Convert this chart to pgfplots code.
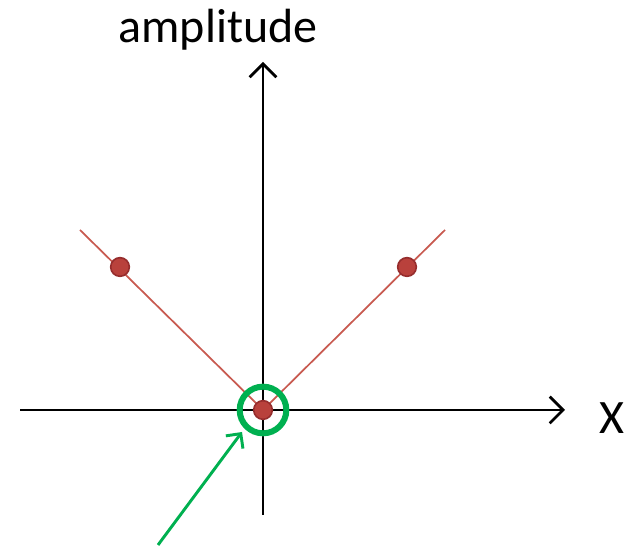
\documentclass[border=0pt]{standalone}
\usepackage{fontspec}
\setmainfont{Carlito}
\usepackage{pgfplots}
\pgfplotsset{compat=1.18}
\usetikzlibrary{arrows.meta}
\definecolor{lred}{RGB}{200,90,80}
\definecolor{dred}{RGB}{150,45,45}
\definecolor{fred}{RGB}{185,65,60}
\definecolor{ogreen}{RGB}{0,176,80}
\begin{document}
\begin{tikzpicture}
\begin{axis}[
  width=480pt, height=411.75pt, scale only axis,
  xmin=-263, xmax=377, ymin=-139, ymax=410,
  axis lines=none, clip=false,
]
% axes
\draw[black, line width=2pt, -{Straight Barb[length=10pt,width=20pt,line width=2pt]}] (axis cs:-243,0) -- (axis cs:302,0);
\draw[black, line width=2pt, -{Straight Barb[length=10pt,width=20pt,line width=2pt]}] (axis cs:0,-105) -- (axis cs:0,348);
\node[font=\fontsize{36}{40}\selectfont] at (axis cs:-45,380) {amplitude};
\node[font=\fontsize{36}{40}\selectfont] at (axis cs:349,-8) {X};
% red lines
\addplot[lred, line width=1.3pt, no marks] coordinates {(-183,180) (0,0) (182,180)};
% points
\addplot[only marks, mark=*, mark size=7pt, mark options={fill=fred, draw=dred, line width=1.2pt}] coordinates {(-143,143) (144,143) (0,0)};
% green circle
\draw[ogreen, line width=4.5pt] (axis cs:0,0) circle[radius=17.5pt];
% green arrow
\draw[ogreen, line width=2.2pt, -{Straight Barb[length=8pt,width=16pt,line width=2.2pt]}] (axis cs:-105,-135) -- (axis cs:-21,-22);
\path (axis cs:-263,-139) rectangle (axis cs:377,410);
\end{axis}
\end{tikzpicture}
\end{document}
